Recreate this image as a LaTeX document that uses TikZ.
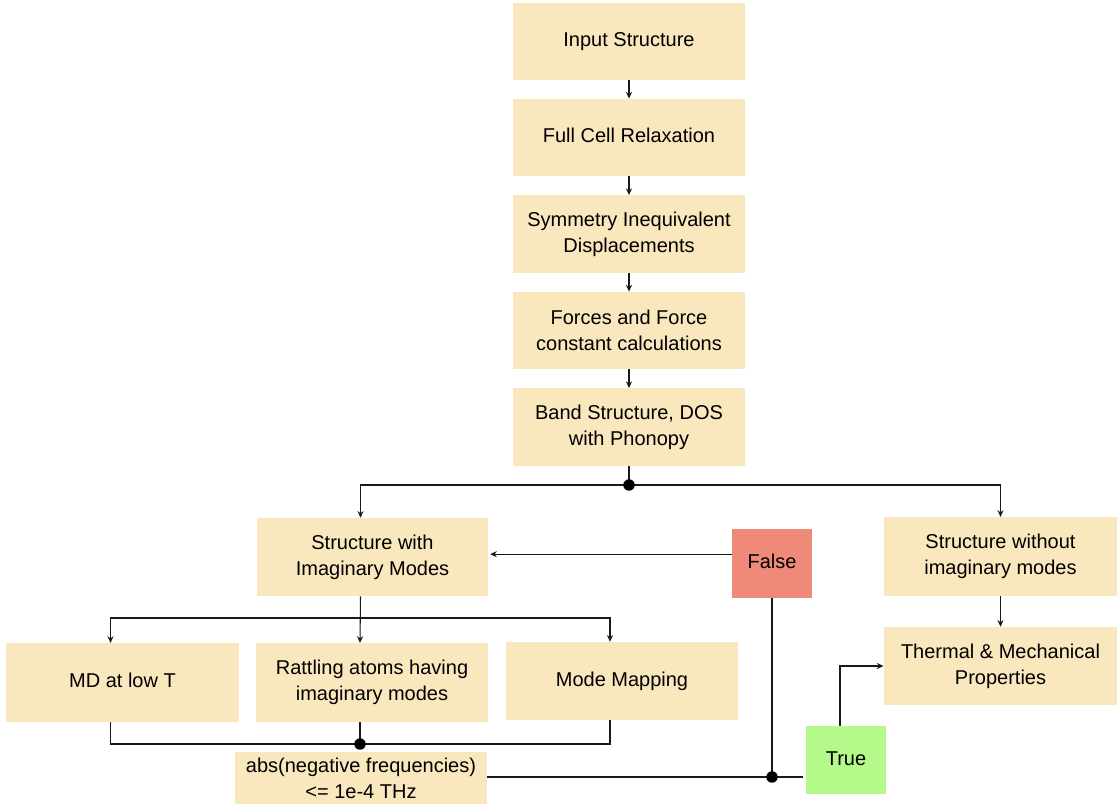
\documentclass[tikz,border=0pt]{standalone}
\usepackage{fontspec}
\setmainfont{Liberation Sans}
\usetikzlibrary{arrows.meta}
\definecolor{boxfill}{HTML}{F9E7BE}
\definecolor{falsefill}{HTML}{F08A78}
\definecolor{truefill}{HTML}{B4F98A}
\begin{document}
\begin{tikzpicture}[x=0.75pt,y=-0.75pt,
  box/.style={fill=boxfill, draw=none, align=center, inner sep=0pt, font=\fontsize{15}{19.5}\selectfont},
  mainbox/.style={box, minimum width=174pt, minimum height=58pt},
  line/.style={draw=black!90, line width=0.8pt},
  arr/.style={line, -{Stealth[length=5pt,width=4.5pt]}},
  dot/.style={fill=black}
]
\useasboundingbox (0,0) rectangle (1117,804);
% main column
\node[mainbox] (inp)  at (629,41.5) {\strut Input Structure};
\node[mainbox] (fcr)  at (629,137.5) {\strut Full Cell Relaxation};
\node[mainbox] (sym)  at (629,234) {Symmetry Inequivalent\\Displacements};
\node[mainbox] (frc)  at (629,330.5) {Forces and Force\\constant calculations};
\node[mainbox] (band) at (629,427) {Band Structure, DOS\\with Phonopy};
% second level
\node[box, minimum width=173pt, minimum height=58.5pt] (swith) at (372.5,557) {Structure with\\Imaginary Modes};
\node[box, minimum width=175pt, minimum height=59pt] (swo) at (1000.5,556.5) {Structure without\\imaginary modes};
\node[box, minimum width=175pt, minimum height=58.5pt] (thm) at (1000.5,666) {Thermal \& Mechanical\\Properties};
% third level
\node[box, minimum width=175pt, minimum height=59pt] (md) at (122.5,682.5) {\strut MD at low T};
\node[box, minimum width=174pt, minimum height=59pt] (rat) at (372,682.5) {Rattling atoms having\\imaginary modes};
\node[box, minimum width=174pt, minimum height=58.5pt] (mm) at (622,681) {\strut Mode Mapping};
% condition
\node[box, minimum width=189pt, minimum height=39pt] (cond) at (361,778) {abs(negative frequencies)\\<= 1e-4 THz};
\node[box, fill=falsefill, minimum width=60pt, minimum height=52pt] (fls) at (772,563.5) {\strut False};
\node[box, fill=truefill, minimum width=60pt, minimum height=51pt] (tru) at (846,760) {\strut True};
% junctions
\coordinate (j1) at (629,485);
\coordinate (j2) at (360,618);
\coordinate (j3) at (360,744);
\coordinate (j4) at (772,777);
\coordinate (j5) at (840,666);
% main column arrows
\draw[arr] (inp) -- (fcr);
\draw[arr] (fcr) -- (sym);
\draw[arr] (sym) -- (frc);
\draw[arr] (frc) -- (band);
\draw[line] (band) -- (j1);
\draw[arr] (j1) -| ([xshift=-9pt]swith.north);
\draw[arr] (j1) -| (swo.north);
\fill[dot] (j1) circle (4.3pt);
\draw[arr] (swo) -- (thm);
% imaginary branch
\draw[arr] ([xshift=-9pt]swith.south) -- ([xshift=-9pt]rat.north);
\draw[arr] (j2) -| ([xshift=-9pt]md.north);
\draw[arr] (j2) -| ([xshift=-9pt]mm.north);
\draw[line] ([xshift=-9pt]md.south) |- (j3) -| ([xshift=-9pt]mm.south);
\draw[line] ([xshift=-9pt]rat.south) -- (j3);
\fill[dot] (j3) circle (4.3pt);
% condition outputs
\draw[line] (cond.east |- j4) -- (j4) -- ([xshift=-2pt]j4 -| tru.west);
\draw[line] (fls) -- (j4);
\fill[dot] (j4) circle (4.3pt);
\draw[arr] ([yshift=7pt]fls.west) -- ([yshift=7pt,xshift=1.5pt]fls.west -| swith.east);
\draw[arr] (tru.north -| j5) |- (thm.west);
\end{tikzpicture}
\end{document}
